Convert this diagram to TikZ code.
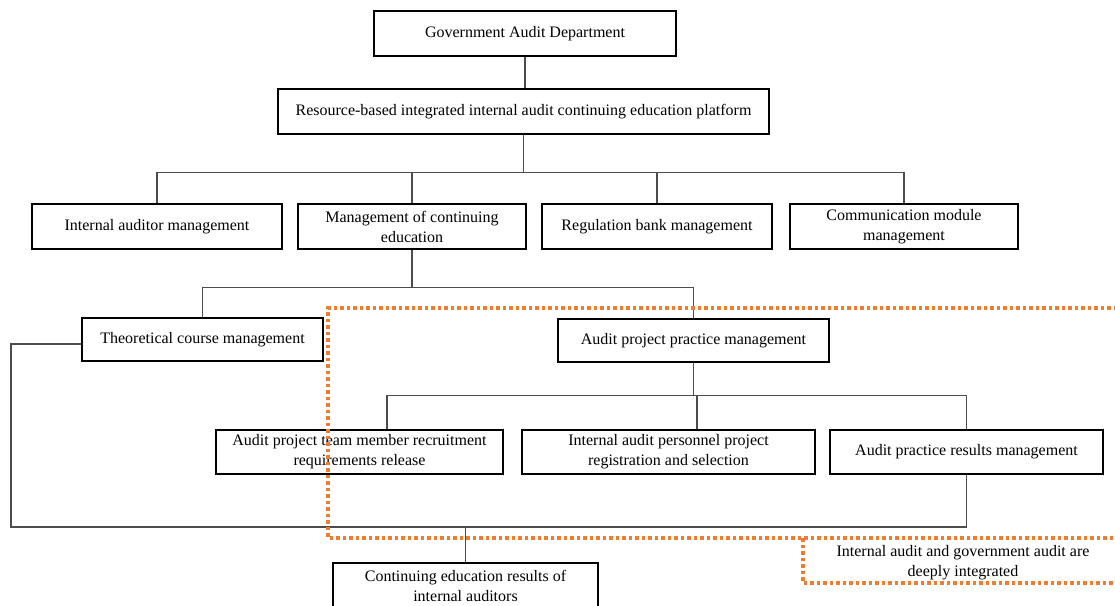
\documentclass[tikz,border=0pt]{standalone}
\usepackage{fontspec}
\setmainfont{Liberation Serif}
\definecolor{zoneorange}{HTML}{ED7D31}

\begin{document}
\begin{tikzpicture}[
    x=1pt, y=-1pt,
    box/.style={rectangle, draw, line width=2.4pt, minimum height=45pt, inner sep=2pt, align=center, font=\fontsize{16}{20}\selectfont},
    line/.style={draw=black!70, line width=1.1pt},
    zone/.style={draw=zoneorange, line width=3.2pt, dash pattern=on 3.5pt off 3pt}
  ]
    \useasboundingbox (0,0) rectangle (1115,605);
    \node[box, minimum width=302pt] (gov) at (525,33.5) {Government Audit Department};
    \node[box, minimum width=491pt] (plat) at (523.5,111.5) {Resource-based integrated internal audit continuing education platform};
    \node[box, minimum width=250pt] (iam) at (157,226.5) {Internal auditor management};
    \node[box, minimum width=228pt] (mce) at (412,226.5) {Management of continuing\\education};
    \node[box, minimum width=230pt] (rbm) at (657,226.5) {Regulation bank management};
    \node[box, minimum width=228pt] (cmm) at (904,226.5) {Communication module\\management};
    \node[box, minimum width=241pt, minimum height=43pt] (tcm) at (202.5,339.5) {Theoretical course management};
    \node[box, minimum width=271pt, minimum height=43pt] (appm) at (693.5,340.5) {Audit project practice management};
    \node[box, minimum width=287pt, minimum height=44pt] (aptm) at (359.5,452) {Audit project team member recruitment\\requirements release};
    \node[box, minimum width=293pt, minimum height=44pt] (iapp) at (668.5,452) {Internal audit personnel project\\registration and selection};
    \node[box, minimum width=273pt, minimum height=44pt] (aprm) at (966.5,452) {Audit practice results management};
    \node[box, minimum width=265pt, minimum height=46pt] (cer) at (465.5,586) {Continuing education results of\\internal auditors};
    \node[align=center, font=\fontsize{16}{20}\selectfont] (note) at (963,563) {Internal audit and government audit are\\deeply integrated};

    \draw[line] (gov.south) -- (gov.south |- plat.north);
    \draw[line] (plat.south) -- ++(0,37) coordinate (bus1);
    \draw[line] (iam.north) |- (bus1) -| (cmm.north);
    \draw[line] (mce.north) -- (mce.north |- bus1);
    \draw[line] (rbm.north) -- (rbm.north |- bus1);
    \draw[line] (mce.south) -- ++(0,37) coordinate (bus2);
    \draw[line] (tcm.north) |- (bus2) -| (appm.north);
    \draw[line] (appm.south) -- ++(0,32) coordinate (bus3);
    \draw[line] ([xshift=27.5pt]aptm.north) |- (bus3) -| (aprm.north);
    \draw[line] ([xshift=28.5pt]iapp.north) -- ([xshift=28.5pt]iapp.north |- bus3);
    \coordinate (bus4) at (11,527);
    \draw[line] ([yshift=-4.5pt]tcm.west) -| (bus4) -| (aprm.south);
    \draw[line] (cer.north) -- (cer.north |- bus4);

    \draw[zone] (1130,308) -| (328,538) -- (1130,538);
    \draw[zone] (803,538) |- (1130,583);
  \end{tikzpicture}
\end{document}
